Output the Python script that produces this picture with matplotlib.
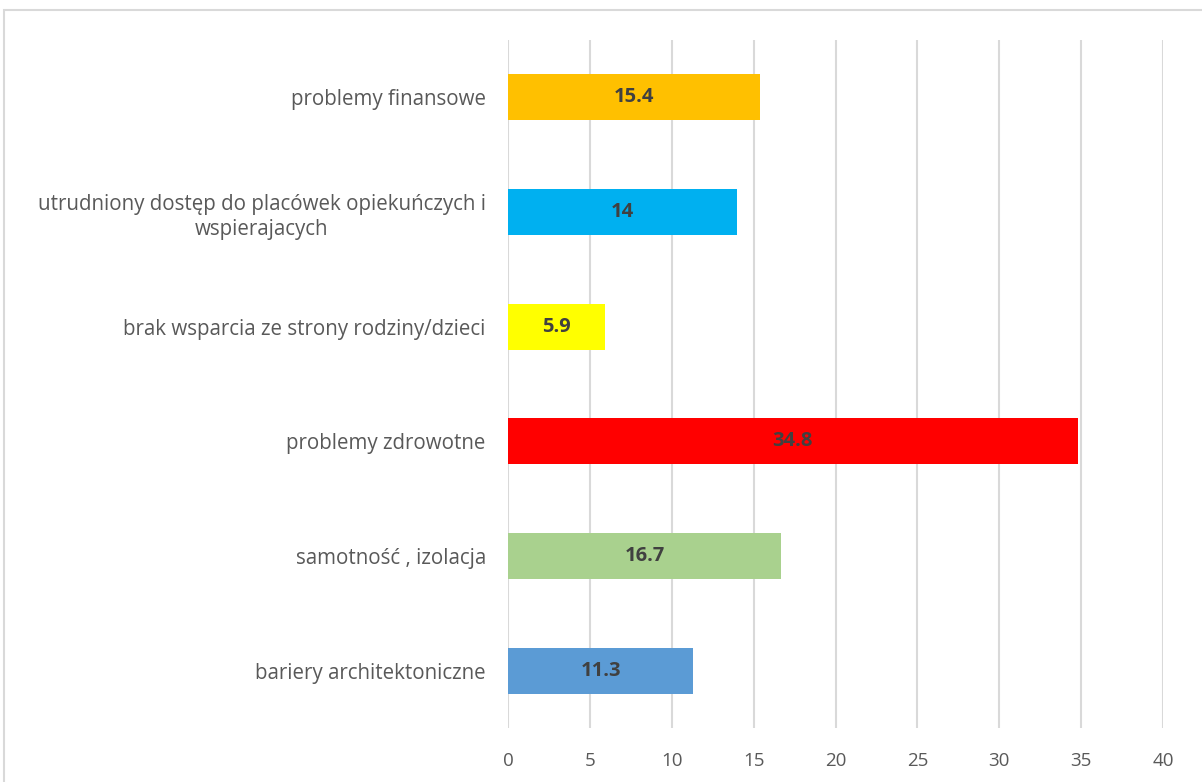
import matplotlib.pyplot as plt
from matplotlib.patches import Rectangle

categories = [
    "bariery architektoniczne",
    "samotność , izolacja",
    "problemy zdrowotne",
    "brak wsparcia ze strony rodziny/dzieci",
    "utrudniony dostęp do placówek opiekuńczych i\nwspierajacych",
    "problemy finansowe",
]
values = [11.3, 16.7, 34.8, 5.9, 14, 15.4]
colors = ["#5b9bd5", "#a9d18e", "#ff0000", "#ffff00", "#00b0f0", "#ffc000"]
value_labels = ["11.3", "16.7", "34.8", "5.9", "14", "15.4"]
x_ticks = [0, 5, 10, 15, 20, 25, 30, 35, 40]

plt.rcParams["font.family"] = ["Open Sans", "DejaVu Sans"]

fig = plt.figure(figsize=(12.02, 7.82), dpi=100)
ax = fig.add_axes([508 / 1202, 1 - 728 / 782, (1163 - 508) / 1202, 688 / 782])

# chart border like the spreadsheet frame
fig.patches.append(Rectangle((4 / 1202, -0.1), 1.2, 1 - 10 / 782 + 0.1,
                             transform=fig.transFigure, fill=False,
                             edgecolor="#d9d9d9", linewidth=1.5))

y = list(range(len(categories)))
ax.barh(y, values, height=0.4, color=colors, zorder=2)
for yi, v, lab in zip(y, values, value_labels):
    ax.text(v / 2, yi, lab, ha="center", va="center", fontsize=14.5,
            fontweight="bold", color="#404040", zorder=3)

ax.set_xlim(0, 40)
ax.set_ylim(-0.5, len(categories) - 0.5)
ax.set_xticks(x_ticks)
ax.set_yticks(y)
ax.set_yticklabels(categories, multialignment="center", linespacing=1.25)
ax.tick_params(axis="both", length=0, labelcolor="#595959")
ax.tick_params(axis="y", pad=16, labelsize=14.8)
ax.tick_params(axis="x", pad=17, labelsize=13.5)
ax.grid(axis="x", color="#d9d9d9", linewidth=1.5, zorder=0)
for s in ax.spines.values():
    s.set_visible(False)

fig.savefig("out.png", dpi=100)
